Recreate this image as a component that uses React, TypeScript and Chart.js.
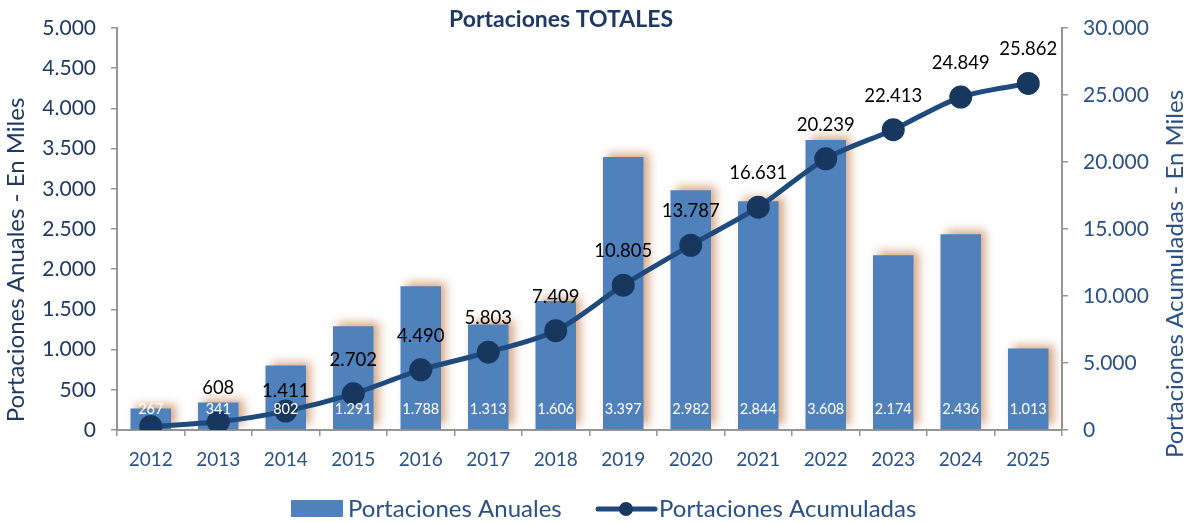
import React, { useEffect, useRef } from "react";
import { Chart, registerables } from "chart.js";

Chart.register(...registerables);

const years = ["2012", "2013", "2014", "2015", "2016", "2017", "2018", "2019", "2020", "2021", "2022", "2023", "2024", "2025"];
const anuales = [267, 341, 802, 1291, 1788, 1313, 1606, 3397, 2982, 2844, 3608, 2174, 2436, 1013];
const acumuladas = [267, 608, 1411, 2702, 4490, 5803, 7409, 10805, 13787, 16631, 20239, 22413, 24849, 25862];
const leftMax = 5000;
const leftStep = 500;
const rightMax = 30000;
const rightStep = 5000;
const chartTitle = "Portaciones TOTALES";
const leftTitle = "Portaciones Anuales - En Miles";
const rightTitle = "Portaciones Acumuladas - En Miles";
const seriesNames = ["Portaciones Anuales", "Portaciones Acumuladas"];
const hiddenLineLabels = ["2012"];
const lowLineLabels = ["2014"];

const FONT = "Lato, 'Open Sans', sans-serif";
const BAR_COLOR = "#4F81BD";
const LINE_COLOR = "#1F4A7E";
const POINT_COLOR = "#17375E";
const NAVY = "#1F3864";
const BLUE_TEXT = "#2A5186";
const AXIS_GRAY = "#959595";

const fmt = (v: number) => String(Math.round(v)).replace(/\B(?=(\d{3})+(?!\d))/g, ".");

const shadowPlugin = {
  id: "barShadow",
  beforeDatasetDraw(chart: any, args: any) {
    if (args.index === 0) {
      const ctx = chart.ctx;
      ctx.save();
      ctx.shadowColor = "rgba(185,110,55,0.6)";
      ctx.shadowBlur = 9;
      ctx.shadowOffsetX = 5;
      ctx.shadowOffsetY = -4;
    }
  },
  afterDatasetDraw(chart: any, args: any) {
    if (args.index === 0) chart.ctx.restore();
  },
};

const labelsPlugin = {
  id: "customLabels",
  afterDatasetsDraw(chart: any) {
    const ctx = chart.ctx;
    ctx.save();
    ctx.textAlign = "center";
    ctx.textBaseline = "middle";
    const barMeta = chart.getDatasetMeta(0);
    ctx.font = `14.5px ${FONT}`;
    ctx.fillStyle = "#FFFFFF";
    barMeta.data.forEach((el: any, i: number) => {
      ctx.fillText(fmt(anuales[i]), el.x, el.base - 20);
    });
    const lineMeta = chart.getDatasetMeta(1);
    ctx.font = `18.5px ${FONT}`;
    ctx.fillStyle = "#000000";
    lineMeta.data.forEach((pt: any, i: number) => {
      if (hiddenLineLabels.includes(years[i])) return;
      const off = lowLineLabels.includes(years[i]) ? 20 : 34;
      ctx.fillText(fmt(acumuladas[i]), pt.x, pt.y - off);
    });
    ctx.restore();
  },
  afterDraw(chart: any) {
    const ctx = chart.ctx;
    ctx.save();
    // title
    ctx.font = `bold 23px ${FONT}`;
    ctx.fillStyle = NAVY;
    ctx.textAlign = "center";
    ctx.textBaseline = "middle";
    ctx.fillText(chartTitle, 561, 20);
    // axis titles
    ctx.font = `24px ${FONT}`;
    ctx.save();
    ctx.translate(16, 260);
    ctx.rotate(-Math.PI / 2);
    ctx.fillStyle = NAVY;
    ctx.fillText(leftTitle, 0, 0);
    ctx.restore();
    ctx.save();
    ctx.translate(1175, 274);
    ctx.rotate(-Math.PI / 2);
    ctx.fillStyle = BLUE_TEXT;
    ctx.fillText(rightTitle, 0, 0);
    ctx.restore();
    // legend
    ctx.fillStyle = BAR_COLOR;
    ctx.fillRect(291, 500, 52, 17);
    ctx.font = `24px ${FONT}`;
    ctx.textAlign = "left";
    ctx.fillStyle = BLUE_TEXT;
    ctx.fillText(seriesNames[0], 348, 509);
    ctx.strokeStyle = LINE_COLOR;
    ctx.lineWidth = 5;
    ctx.lineCap = "round";
    ctx.beginPath();
    ctx.moveTo(598, 509);
    ctx.lineTo(655, 509);
    ctx.stroke();
    ctx.fillStyle = POINT_COLOR;
    ctx.beginPath();
    ctx.arc(626, 509, 7, 0, Math.PI * 2);
    ctx.fill();
    ctx.fillStyle = BLUE_TEXT;
    ctx.fillText(seriesNames[1], 659, 509);
    ctx.restore();
  },
};

export default function App() {
  const ref = useRef<HTMLCanvasElement | null>(null);
  useEffect(() => {
    if (!ref.current) return;
    const chart = new Chart(ref.current, {
      type: "bar",
      data: {
        labels: years,
        datasets: [
          {
            type: "bar",
            label: seriesNames[0],
            data: anuales,
            backgroundColor: BAR_COLOR,
            yAxisID: "y",
            order: 1,
            barPercentage: 0.6,
            categoryPercentage: 1,
          },
          {
            type: "line",
            label: seriesNames[1],
            data: acumuladas,
            borderColor: LINE_COLOR,
            backgroundColor: POINT_COLOR,
            pointBackgroundColor: POINT_COLOR,
            pointBorderColor: POINT_COLOR,
            pointRadius: 9,
            borderWidth: 5,
            tension: 0.3,
            yAxisID: "y1",
            order: 0,
          } as any,
        ],
      },
      options: {
        animation: false,
        responsive: true,
        maintainAspectRatio: false,
        layout: { padding: { top: 28, left: 0, right: 0, bottom: 0 } },
        plugins: {
          legend: { display: false },
          title: { display: false },
          tooltip: { enabled: false },
        },
        scales: {
          x: {
            offset: true,
            grid: {
              display: true,
              drawOnChartArea: false,
              drawTicks: true,
              tickLength: 6,
              color: AXIS_GRAY,
              lineWidth: 1.5,
              offset: true,
            },
            border: { display: true, color: AXIS_GRAY, width: 2 },
            ticks: {
              color: BLUE_TEXT,
              font: { family: FONT, size: 19 },
              padding: 12,
              maxRotation: 0,
            },
            afterFit(scale: any) {
              scale.height = 93;
            },
          },
          y: {
            position: "left",
            min: 0,
            max: leftMax,
            grid: {
              display: true,
              drawOnChartArea: false,
              drawTicks: true,
              tickLength: 6,
              color: AXIS_GRAY,
              lineWidth: 1.5,
            },
            border: { display: true, color: AXIS_GRAY, width: 2 },
            ticks: {
              stepSize: leftStep,
              color: NAVY,
              font: { family: FONT, size: 21 },
              padding: 15,
              callback: (v: any) => fmt(Number(v)),
            },
            afterFit(scale: any) {
              scale.width = 117;
            },
          },
          y1: {
            position: "right",
            min: 0,
            max: rightMax,
            grid: {
              display: true,
              drawOnChartArea: false,
              drawTicks: true,
              tickLength: 6,
              color: AXIS_GRAY,
              lineWidth: 1.5,
            },
            border: { display: true, color: AXIS_GRAY, width: 2 },
            ticks: {
              stepSize: rightStep,
              color: BLUE_TEXT,
              font: { family: FONT, size: 21 },
              padding: 15,
              callback: (v: any) => fmt(Number(v)),
            },
            afterFit(scale: any) {
              scale.width = 130;
            },
          },
        },
      } as any,
      plugins: [shadowPlugin, labelsPlugin],
    });
    return () => chart.destroy();
  }, []);
  return (
    <div style={{ position: "fixed", left: 0, top: 0, width: 1192, height: 523, background: "#fff" }}>
      <canvas ref={ref} />
    </div>
  );
}
